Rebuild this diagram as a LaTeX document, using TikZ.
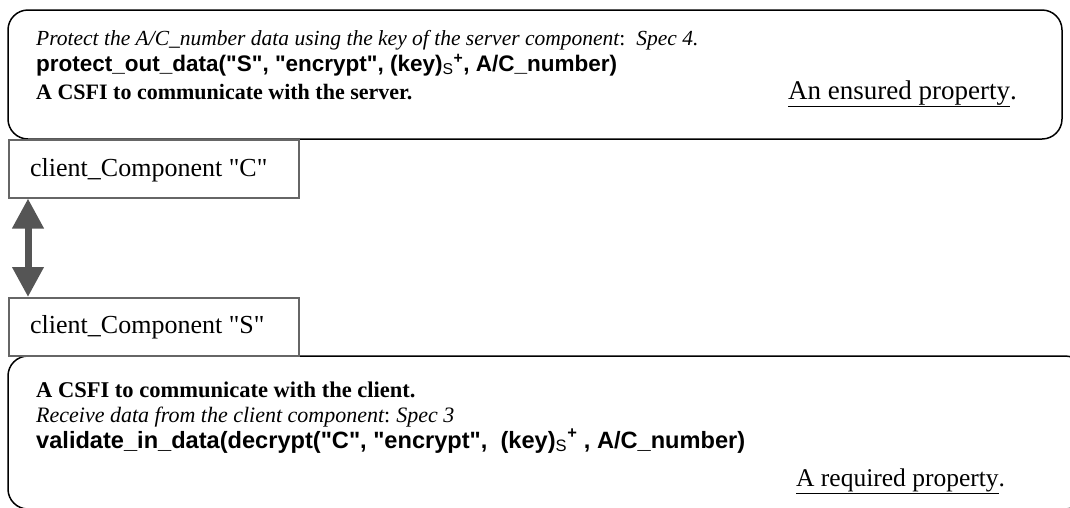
\documentclass[tikz,border=0pt]{standalone}
\usepackage{fontspec}
\setmainfont{Liberation Serif}[Ligatures=TeXOff]
\setsansfont{Liberation Sans}[Ligatures=TeXOff]
\usetikzlibrary{arrows.meta}
\definecolor{boxgray}{HTML}{666666}
\definecolor{arrowgray}{HTML}{555555}
\begin{document}
\begin{tikzpicture}[x=1pt,y=-1pt,
  bigbox/.style={draw=black,line width=1.5pt,rounded corners=20pt},
  compbox/.style={draw=boxgray,line width=1.5pt,fill=white,anchor=north west,inner sep=0pt,
    minimum width=290pt,minimum height=58pt},
  txt/.style={anchor=base west,inner sep=0pt},
  lbl/.style={anchor=base west,inner sep=0pt,font=\fontsize{26}{30}\selectfont},
  arr/.style={draw=arrowgray,line width=7pt,{Triangle[width=30pt,length=30pt]}-{Triangle[width=30pt,length=30pt]},arrowgray}]
\useasboundingbox (0,0) rectangle (1070,507);
\clip (0,0) rectangle (1070,507);
% top box
\draw[bigbox] (8,10) rectangle (1062,139);
\node[txt,font=\fontsize{21.5}{25}\selectfont\itshape] (l1) at (36,45) {Protect the A/C\_number data using the key of the server component{\upshape :}\hspace{11pt}Spec 4.};
\node[txt,font=\fontsize{22.5}{26}\selectfont\sffamily\bfseries] (l2) at (36,71) {protect\_out\_data("S", "encrypt", (key)\textsubscript{\mdseries S}\textsuperscript{+}, A/C\_number)};
\node[txt,font=\fontsize{22}{26}\selectfont\bfseries] (l3) at (36,99) {A CSFI to communicate with the server.};
\node[txt,font=\fontsize{27}{31}\selectfont] (ens) at (788,99) {\underline{An ensured property}.};
% component boxes
\node[compbox] (C) at (8,139) {};
\node[lbl] (Ct) at (30,176) {client\_Component "C"};
% bottom box
\draw[bigbox] (8,356) rectangle (1085,509);
\node[compbox] (S) at (8,297) {};
\node[lbl] (St) at (30,333) {client\_Component "S"};
\draw[arr] ([xshift=20pt]C.south west) -- ([xshift=20pt]S.north west);
\node[txt,font=\fontsize{22.5}{26}\selectfont\bfseries] (b1) at (36,397) {A CSFI to communicate with the client.};
\node[txt,font=\fontsize{22}{26}\selectfont\itshape] (b2) at (36,422) {Receive data from the client component{\upshape :}\hspace{6pt}Spec 3};
\node[txt,font=\fontsize{23.6}{27}\selectfont\sffamily\bfseries] (b3) at (36,448) {validate\_in\_data(decrypt("C", "encrypt",\ \ (key)\textsubscript{\mdseries S}\textsuperscript{+} , A/C\_number)};
\node[txt,font=\fontsize{25.5}{30}\selectfont] (req) at (796,486) {\underline{A required property}.};
\end{tikzpicture}
\end{document}
